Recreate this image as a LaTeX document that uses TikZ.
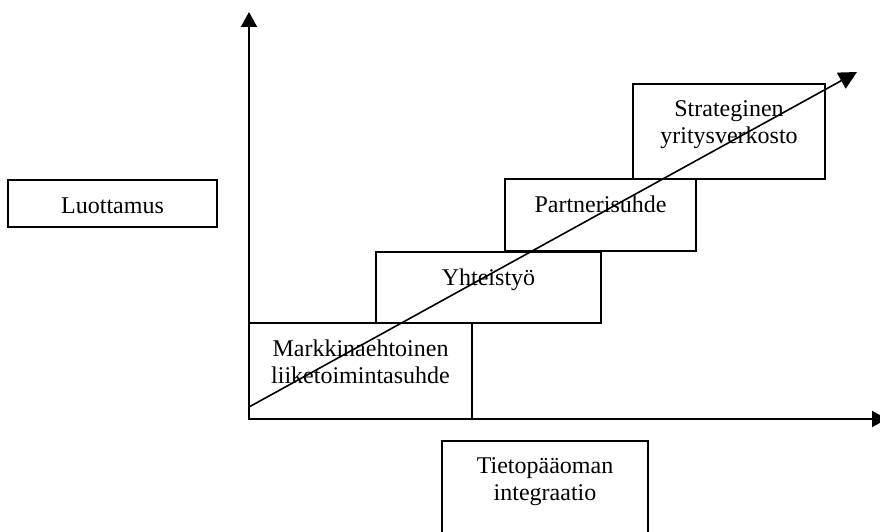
\documentclass[tikz,border=0pt]{standalone}
\usepackage{fontspec}
\setmainfont{Liberation Serif}
\usetikzlibrary{arrows.meta,positioning}
\tikzset{
  >={Triangle[length=15pt, width=16pt]},
  stage/.style={draw, line width=1.8pt, minimum width=#1, inner sep=0pt},
  stage/.default=2cm,
  txt/.style={anchor=north, inner sep=0pt, align=center, font=\fontsize{24}{27}\selectfont},
  axis/.style={line width=2pt, ->},
  trend/.style={line width=1.6pt, ->, >={Triangle[length=18pt, width=18pt]}},
}

\begin{document}
\begin{tikzpicture}[x=1pt, y=-1pt]
  \useasboundingbox (0,0) rectangle (880,532);

  % stage boxes
  \node[stage=209pt, minimum height=47pt] (trust) at (112.5,203.5) {};
  \node[stage=223pt, minimum height=96pt] (market) at (360.5,371) {};
  \node[stage=225pt, minimum height=71pt] (coop) at (488.5,287.5) {};
  \node[stage=191pt, minimum height=72pt] (partner) at (600.5,215) {};
  \node[stage=192pt, minimum height=95pt] (strat) at (729,131.5) {};
  \node[stage=206pt, minimum height=110pt] (know) at (545,496) {};

  % texts
  \node[txt] (trust-t) at ([yshift=-18pt]trust.north) {Luottamus};
  \node[txt] (market-t) at ([yshift=-18pt]market.north) {Markkinaehtoinen\\liiketoimintasuhde};
  \node[txt] (coop-t) at ([yshift=-17.5pt]coop.north) {Yhteistyö};
  \node[txt] (partner-t) at ([yshift=-17.5pt]partner.north) {Partnerisuhde};
  \node[txt] (strat-t) at ([yshift=-17.5pt]strat.north) {Strateginen\\yritysverkosto};
  \node[txt] (know-t) at ([yshift=-17pt]know.north) {Tietopääoman\\integraatio};

  % axes
  \coordinate (orig) at (249,419);
  \coordinate (ytop) at (249,12);
  \coordinate (xend) at (887,419);
  \draw[axis] (orig) -- (ytop);
  \draw[axis] (orig) -- (xend);

  % trend arrow
  \coordinate (d0) at (249,407);
  \coordinate (d1) at (857,72);
  \draw[trend] (d0) -- (d1);
\end{tikzpicture}
\end{document}
